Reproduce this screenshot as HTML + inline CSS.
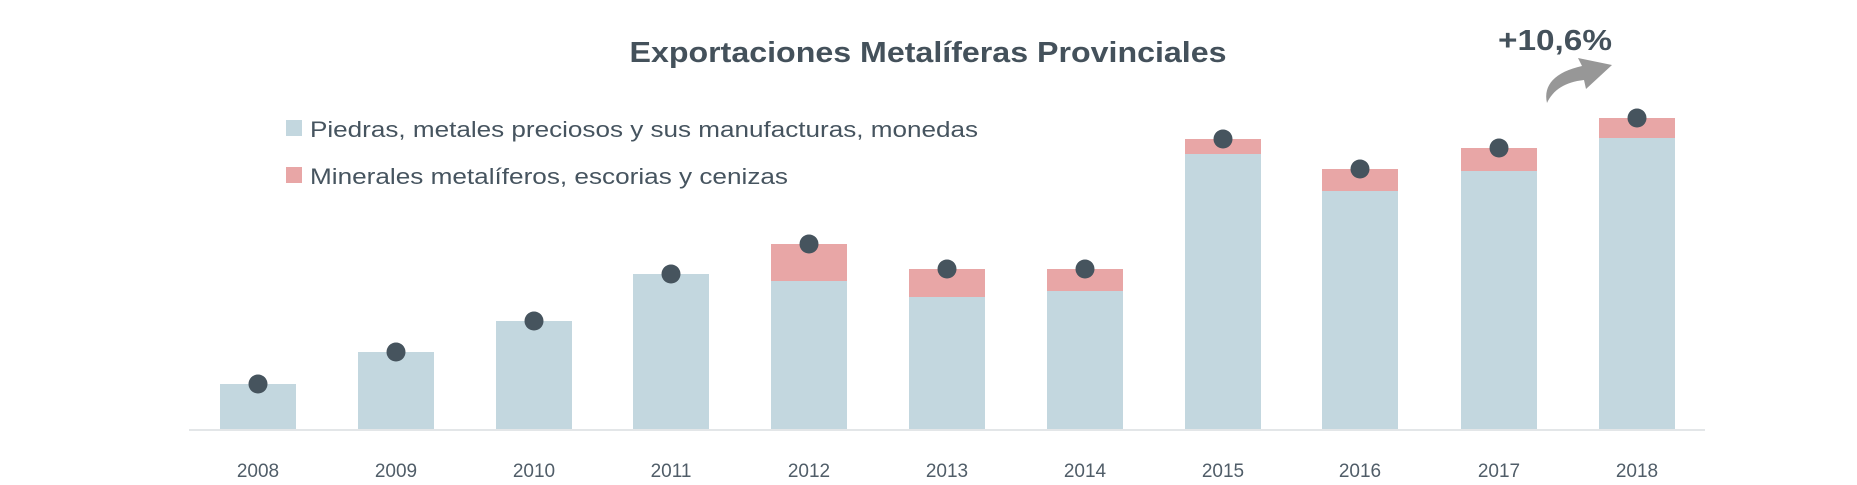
<!DOCTYPE html>
<html><head><meta charset="utf-8"><style>
html,body{margin:0;padding:0;background:#fff;}
svg{display:block;}
text{font-family:"Liberation Sans",sans-serif;}
</style></head><body>
<svg width="1857" height="485" viewBox="0 0 1857 485" xmlns="http://www.w3.org/2000/svg">
<text x="928" y="62" text-anchor="middle" font-size="29" font-weight="bold" fill="#44515b" textLength="597" lengthAdjust="spacingAndGlyphs">Exportaciones Metalíferas Provinciales</text>
<rect x="286" y="120" width="16" height="16" fill="#c3d7df"/>
<text x="310" y="137" font-size="22" fill="#46545f" textLength="668" lengthAdjust="spacingAndGlyphs">Piedras, metales preciosos y sus manufacturas, monedas</text>
<rect x="286" y="167" width="16" height="16" fill="#e8a6a6"/>
<text x="310" y="184" font-size="22" fill="#46545f" textLength="478" lengthAdjust="spacingAndGlyphs">Minerales metalíferos, escorias y cenizas</text>
<text x="1498" y="50" font-size="29" font-weight="bold" fill="#44515b" textLength="114" lengthAdjust="spacingAndGlyphs">+10,6%</text>
<path d="M1547,103 C1543,85 1555,72 1582,66 L1578,58 L1612,65 L1586,89 L1584,80 C1565,82 1553,90 1547,103 Z" fill="#979797"/>
<line x1="189" y1="430" x2="1705" y2="430" stroke="#e3e6e8" stroke-width="2"/>
<g fill="#c3d7df">
<rect x="220" y="384" width="76" height="45"/>
<rect x="358" y="352" width="76" height="77"/>
<rect x="496" y="321" width="76" height="108"/>
<rect x="633" y="274" width="76" height="155"/>
<rect x="771" y="281" width="76" height="148"/>
<rect x="909" y="297" width="76" height="132"/>
<rect x="1047" y="291" width="76" height="138"/>
<rect x="1185" y="154" width="76" height="275"/>
<rect x="1322" y="191" width="76" height="238"/>
<rect x="1461" y="171" width="76" height="258"/>
<rect x="1599" y="138" width="76" height="291"/>
</g>
<g fill="#e8a6a6">
<rect x="771" y="244" width="76" height="37"/>
<rect x="909" y="269" width="76" height="28"/>
<rect x="1047" y="269" width="76" height="22"/>
<rect x="1185" y="139" width="76" height="15"/>
<rect x="1322" y="169" width="76" height="22"/>
<rect x="1461" y="148" width="76" height="23"/>
<rect x="1599" y="118" width="76" height="20"/>
</g>
<g fill="#46545e">
<circle cx="258" cy="384" r="9.5"/>
<circle cx="396" cy="352" r="9.5"/>
<circle cx="534" cy="321" r="9.5"/>
<circle cx="671" cy="274" r="9.5"/>
<circle cx="809" cy="244" r="9.5"/>
<circle cx="947" cy="269" r="9.5"/>
<circle cx="1085" cy="269" r="9.5"/>
<circle cx="1223" cy="139" r="9.5"/>
<circle cx="1360" cy="169" r="9.5"/>
<circle cx="1499" cy="148" r="9.5"/>
<circle cx="1637" cy="118" r="9.5"/>
</g>
<g font-size="19" fill="#505d68" text-anchor="middle">
<text x="258" y="477">2008</text>
<text x="396" y="477">2009</text>
<text x="534" y="477">2010</text>
<text x="671" y="477">2011</text>
<text x="809" y="477">2012</text>
<text x="947" y="477">2013</text>
<text x="1085" y="477">2014</text>
<text x="1223" y="477">2015</text>
<text x="1360" y="477">2016</text>
<text x="1499" y="477">2017</text>
<text x="1637" y="477">2018</text>
</g>
</svg>
</body></html>
